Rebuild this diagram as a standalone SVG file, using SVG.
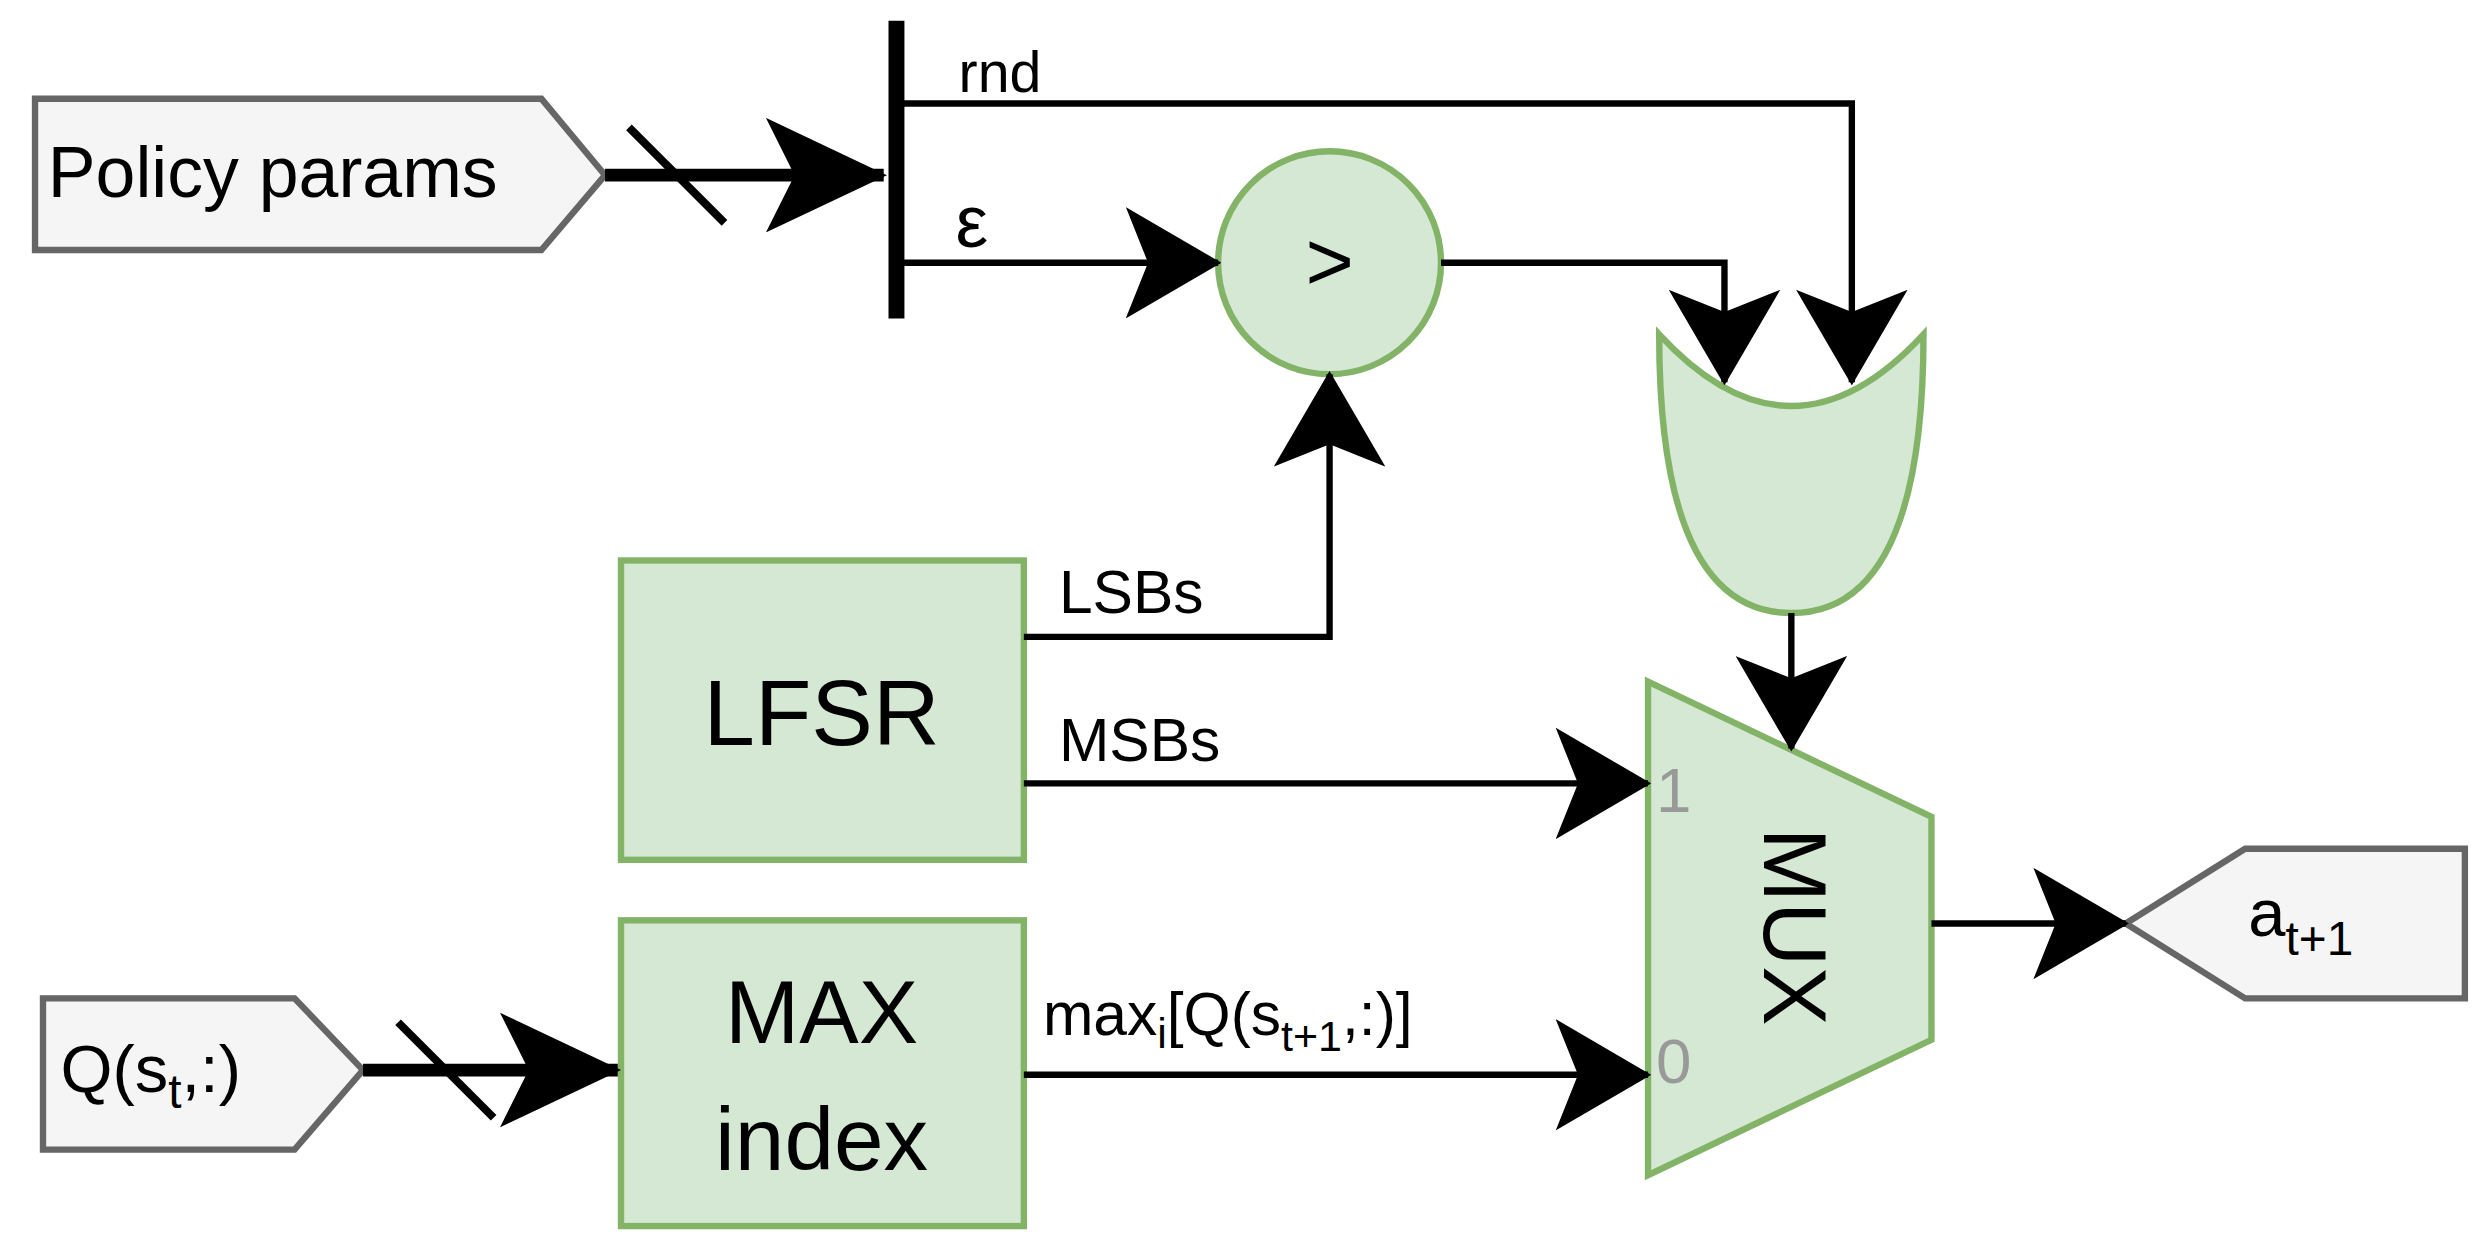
<svg xmlns="http://www.w3.org/2000/svg" width="2484" height="1255" viewBox="0 0 2484 1255">
<style>
.g{fill:#d5e8d4;stroke:#82b366;stroke-width:4}
.p{fill:#f5f5f5;stroke:#666;stroke-width:4}
.w{fill:none;stroke:#000;stroke-width:4}
.t{fill:none;stroke:#000;stroke-width:8}
text{font-family:"Liberation Sans",Arial,sans-serif;fill:#000}
</style>
<defs>
<marker id="a" markerUnits="userSpaceOnUse" viewBox="0 0 60 70" refX="58" refY="35" markerWidth="60" markerHeight="70" orient="auto">
<path d="M0,0 L60,35 L0,70 L14,35 Z" fill="#000"/>
</marker>
<marker id="b" markerUnits="userSpaceOnUse" viewBox="0 0 76 72" refX="74" refY="36" markerWidth="76" markerHeight="72" orient="auto">
<path d="M0,0 L76,36 L0,72 L18,36 Z" fill="#000"/>
</marker>
</defs>
<rect width="2484" height="1255" fill="#fff"/>
<g transform="scale(1.5923)">
<g id="policy"><path class="p" d="M22,62 H340 L380,110 L340,157 H22 Z"/><text x="30" y="124" font-size="45">Policy params</text></g>
<g id="qin"><path class="p" d="M27,627 H185 L228,672 L185,722 H27 Z"/><text x="38" y="686" font-size="42">Q(s<tspan font-size="30" dy="10">t</tspan><tspan dy="-10">,:)</tspan></text></g>
<g id="aout"><path class="p" d="M1335,580 L1410,533 H1548 V627 H1410 Z"/><text x="1412" y="588" font-size="42">a<tspan font-size="30" dy="12">t+1</tspan></text></g>
<g id="bar"><line x1="563" y1="13" x2="563" y2="200" stroke="#000" stroke-width="10"/></g>
<g id="cmp"><circle class="g" cx="835" cy="165" r="70"/><text x="835" y="182" font-size="52" text-anchor="middle">&gt;</text></g>
<g id="or"><path class="g" d="M1042,210 Q1125,300 1208,210 Q1208,385 1125,385 Q1042,385 1042,210 Z"/></g>
<g id="mux"><path class="g" d="M1035,428 L1213,513 V653 L1035,738 Z"/><text transform="translate(1108,582) rotate(90)" font-size="56" text-anchor="middle">MUX</text><text x="1040" y="510" font-size="40" style="fill:#999">1</text><text x="1040" y="680" font-size="40" style="fill:#999">0</text></g>
<g id="lfsr"><rect class="g" x="390" y="352" width="253" height="188"/><text x="516" y="468" font-size="58" text-anchor="middle">LFSR</text></g>
<g id="max"><rect class="g" x="390" y="578" width="253" height="192"/><text x="516" y="655" font-size="56" text-anchor="middle">MAX</text><text x="516" y="735" font-size="56" text-anchor="middle">index</text></g>
<g id="connectors">
<path class="t" d="M380,110 H555" marker-end="url(#b)"/>
<line x1="395" y1="80" x2="455" y2="140" stroke="#000" stroke-width="5"/>
<path class="t" d="M228,672 H388" marker-end="url(#b)"/>
<line x1="250" y1="642" x2="310" y2="702" stroke="#000" stroke-width="5"/>
<path class="w" d="M563,65 H1163 V240" marker-end="url(#a)"/>
<path class="w" d="M563,165 H765" marker-end="url(#a)"/>
<path class="w" d="M905,165 H1083 V240" marker-end="url(#a)"/>
<path class="w" d="M1125,385 V470" marker-end="url(#a)"/>
<path class="w" d="M643,400 H835 V235" marker-end="url(#a)"/>
<path class="w" d="M643,492 H1035" marker-end="url(#a)"/>
<path class="w" d="M643,675 H1035" marker-end="url(#a)"/>
<path class="w" d="M1213,580 H1335" marker-end="url(#a)"/>
<text x="602" y="58" font-size="36">rnd</text>
<text x="600" y="155" font-size="46">ε</text>
<text x="665" y="385" font-size="38">LSBs</text>
<text x="665" y="478" font-size="38">MSBs</text>
<text x="655" y="650" font-size="38">max<tspan font-size="27" dy="8">i</tspan><tspan dy="-8">[Q(s</tspan><tspan font-size="27" dy="10">t+1</tspan><tspan dy="-10">,:)]</tspan></text>
</g>
</g>
</svg>
